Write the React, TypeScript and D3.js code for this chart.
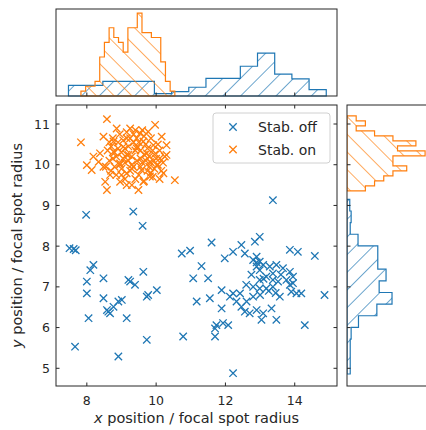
import * as d3 from 'd3';

// scatter: stabilisation off (blue) / on (orange), in focal-spot radii
const offX = [7.5, 7.62, 7.68, 8.19, 8.1, 8.0, 8.0, 8.05, 7.66, 8.48, 8.48, 8.77, 8.62, 8.67, 8.91, 9.01, 8.58, 9.2, 9.25, 9.39,
  9.15, 9.63, 9.73, 9.77, 10.02, 9.73, 8.91, 10.74, 10.98, 11.6, 11.31, 11.07, 11.5, 11.17, 11.55, 11.89, 11.89, 10.78, 11.7, 11.74,
  11.93, 11.7, 12.08, 12.22, 11.98, 12.22, 12.46, 12.56, 12.85, 12.99, 12.8, 12.9, 12.99, 13.09, 13.28, 13.47, 13.66, 13.86, 12.99, 13.18,
  13.37, 13.52, 13.76, 13.95, 13.9, 14.05, 14.19, 13.95, 13.86, 14.09, 14.58, 14.86, 14.29, 13.47, 13.04, 13.33, 13.57, 12.8, 12.61, 12.42,
  12.22, 12.32, 12.46, 12.7, 12.9, 13.09, 12.8, 12.99, 13.18, 13.37, 12.9, 12.99, 13.86, 12.13, 12.56, 13.37, 7.98, 9.34, 9.61, 13.37,
  12.75, 13.1, 13.25, 13.6, 13.0, 12.6, 13.45, 12.9];
const offY = [7.95, 7.93, 7.9, 7.54, 7.41, 7.13, 6.84, 6.23, 5.53, 7.21, 6.72, 6.51, 6.39, 6.35, 6.64, 6.68, 6.43, 7.17, 7.13, 7.05,
  6.23, 7.37, 6.76, 6.8, 6.92, 5.7, 5.29, 7.82, 7.89, 8.09, 7.51, 7.21, 7.21, 6.64, 6.72, 6.92, 6.47, 5.78, 5.78, 6.06,
  6.11, 5.98, 6.06, 4.88, 7.7, 7.86, 8.03, 7.82, 8.11, 8.23, 7.66, 7.5, 7.41, 7.54, 7.5, 7.54, 7.46, 7.37, 7.17, 7.25,
  7.33, 7.13, 7.17, 7.09, 6.88, 6.84, 6.84, 7.25, 7.91, 7.86, 7.76, 6.8, 6.06, 6.19, 6.19, 6.47, 6.76, 6.76, 6.64, 6.84,
  6.84, 6.64, 6.51, 6.35, 6.43, 6.35, 7.0, 6.96, 6.96, 7.0, 7.74, 7.62, 7.05, 6.76, 6.39, 7.17, 8.77, 8.85, 8.5, 9.13,
  7.3, 7.2, 6.9, 7.3, 6.8, 7.05, 6.85, 7.6];

const onX = [8.58, 8.86, 8.48, 9.25, 9.97, 9.54, 9.77, 10.16, 10.3, 10.3, 10.11, 10.02, 10.21, 10.54, 8.19, 8.0, 8.34, 8.48, 8.67, 8.53,
  8.58, 8.96, 9.3, 9.49, 9.63, 9.82, 9.05, 8.77, 9.2, 9.44, 9.73, 8.96, 9.34, 9.58, 9.82, 9.15, 8.77, 9.63, 9.92, 9.44,
  9.15, 8.38, 8.14, 7.83,
  8.7, 8.85, 8.9, 9.0, 9.1, 9.05, 9.2, 9.3, 9.35, 9.45, 9.55, 9.6, 9.7, 9.8, 9.9, 10.0, 10.05, 9.95, 9.75, 9.5,
  9.25, 9.0, 8.8, 8.65, 8.6, 8.75, 8.95, 9.15, 9.4, 9.65, 9.85, 10.1, 10.2, 10.15, 9.9, 9.65, 9.4, 9.1, 8.85, 8.7,
  8.9, 9.15, 9.4, 9.65, 9.85, 9.55, 9.3, 9.05, 8.8, 9.25, 9.5, 9.75, 9.95, 10.05, 9.7, 9.45, 9.2, 8.95, 9.1, 9.35,
  9.6, 8.75, 8.55, 9.0, 9.8, 10.25, 9.55, 9.3, 9.15, 9.85, 10.1, 8.65];
const onY = [11.12, 10.89, 10.69, 10.89, 10.98, 10.77, 10.81, 10.69, 10.48, 10.24, 10.16, 9.99, 9.79, 9.62, 10.2, 9.99, 10.07, 9.95, 9.75, 9.58,
  9.38, 9.58, 9.5, 9.38, 9.58, 9.71, 10.44, 10.32, 10.24, 10.4, 10.28, 10.03, 9.95, 9.87, 10.07, 9.79, 10.57, 10.57, 10.48, 10.65,
  10.65, 10.28, 9.87, 10.55,
  10.45, 10.2, 10.55, 10.3, 10.05, 10.6, 10.45, 10.2, 10.55, 10.1, 10.35, 10.05, 10.5, 10.2, 10.35, 10.15, 10.5, 9.9, 9.85, 9.75,
  9.85, 9.9, 9.95, 10.1, 10.35, 10.65, 10.75, 10.8, 10.85, 10.7, 10.65, 10.35, 10.05, 9.85, 9.7, 9.6, 9.65, 9.65, 9.75, 9.85,
  10.4, 10.25, 10.35, 10.25, 10.05, 9.95, 10.0, 10.15, 10.3, 10.65, 10.55, 10.4, 10.25, 10.0, 10.1, 10.45, 10.1, 10.0, 10.4, 10.75,
  10.85, 10.15, 9.95, 9.75, 9.95, 10.2, 10.15, 9.9, 9.5, 9.8, 9.65, 10.55];

// marginal histograms (evenly spaced bins over each range)
const topOffRange = [7.47, 14.91];
const topOffCounts = [2.2, 2.2, 3.0, 3.0, 3.0, 0.5, 0.9, 1.8, 3.6, 3.6, 6.1, 8.8, 4.5, 3.5, 1.3];
const topOnRange = [7.83, 10.54];
const topOnCounts = [1, 2, 2, 3, 8, 11, 14, 12, 11, 9, 14, 14, 17, 13, 13, 12, 12, 7, 3, 1];
const rightOffRange = [4.86, 9.15];
const rightOffCounts = [0.7, 0.7, 0.7, 0.9, 2.5, 6.5, 9.8, 7, 8.5, 6.7, 6.7, 2.4, 0.7, 0.9, 0.6];
const rightOnRange = [9.36, 11.2];
const rightOnCounts = [4, 6, 8, 10, 13, 10, 10, 17, 11, 15, 10, 6, 2, 4, 2];

const xTicks = [8, 10, 12, 14];
const yTicks = [5, 6, 7, 8, 9, 10, 11];
const seriesNames = ['Stab. off', 'Stab. on'];

const BLUE = '#1f77b4';
const ORANGE = '#ff7f0e';
const INK = '#262626';
const FONT = 'DejaVu Sans, sans-serif';

const main = { l: 56, r: 337, t: 105, b: 386 };
const top = { t: 9, b: 96 };
const side = { l: 347, r: 429 };

const x = d3.scaleLinear().domain([7.11, 15.22]).range([main.l, main.r]);
const y = d3.scaleLinear().domain([4.565, 11.467]).range([main.b, main.t]);
const hTop = d3.scaleLinear().domain([0, 17.85]).range([top.b, top.t]);
const hSide = d3.scaleLinear().domain([0, 17.85]).range([side.l, side.r]);

function edges(range: number[], n: number) {
  return d3.range(n + 1).map((i) => range[0] + ((range[1] - range[0]) * i) / n);
}

// step outline of a histogram; vertical=true draws along x
function histPath(range: number[], counts: number[], pos: any, val: any, vertical: boolean) {
  const e = edges(range, counts.length);
  const pts: [number, number][] = [[e[0], 0]];
  counts.forEach((c, i) => {
    pts.push([e[i], c]);
    pts.push([e[i + 1], c]);
  });
  pts.push([e[e.length - 1], 0]);
  const line = d3
    .line<[number, number]>()
    .x((p) => (vertical ? pos(p[0]) : val(p[1])))
    .y((p) => (vertical ? val(p[1]) : pos(p[0])));
  return line(pts) + 'Z';
}

function Cross({ cx, cy, color, r = 3.7 }: any) {
  return (
    <path
      d={`M${cx - r},${cy - r}L${cx + r},${cy + r}M${cx - r},${cy + r}L${cx + r},${cy - r}`}
      stroke={color}
      strokeWidth={1.3}
      fill="none"
    />
  );
}

function Hatch({ id, color, angle }: any) {
  return (
    <pattern id={id} patternUnits="userSpaceOnUse" width={12.5} height={12} patternTransform={`rotate(${angle})`}>
      <line x1={0} y1={0} x2={0} y2={12} stroke={color} strokeWidth={1.3} />
    </pattern>
  );
}

export default function App() {
  const tl = 3.5;
  return (
    <svg width={426} height={430} style={{ position: 'absolute', left: 0, top: 0, background: '#fff' }} fontFamily={FONT}>
      <defs>
        <Hatch id="hOff" color={BLUE} angle={45} />
        <Hatch id="hOn" color={ORANGE} angle={-45} />
        <clipPath id="clipMain">
          <rect x={main.l} y={main.t} width={main.r - main.l} height={main.b - main.t} />
        </clipPath>
        <clipPath id="clipSide">
          <rect x={side.l} y={main.t} width={side.r - side.l} height={main.b - main.t} />
        </clipPath>
      </defs>

      {/* top marginal histogram */}
      <g>
        <path d={histPath(topOffRange, topOffCounts, x, hTop, true)} fill="url(#hOff)" stroke={BLUE} strokeWidth={1.2} />
        <path d={histPath(topOnRange, topOnCounts, x, hTop, true)} fill="url(#hOn)" stroke={ORANGE} strokeWidth={1.2} />
        {xTicks.map((t) => (
          <line key={t} x1={x(t)} x2={x(t)} y1={top.b} y2={top.b - tl} stroke={INK} />
        ))}
        <rect x={main.l} y={top.t} width={main.r - main.l} height={top.b - top.t} fill="none" stroke={INK} strokeWidth={1} />
      </g>

      {/* right marginal histogram */}
      <g clipPath="url(#clipSide)">
        <path d={histPath(rightOffRange, rightOffCounts, y, hSide, false)} fill="url(#hOff)" stroke={BLUE} strokeWidth={1.2} />
        <path d={histPath(rightOnRange, rightOnCounts, y, hSide, false)} fill="url(#hOn)" stroke={ORANGE} strokeWidth={1.2} />
      </g>
      {yTicks.map((t) => (
        <line key={t} x1={side.l} x2={side.l + tl} y1={y(t)} y2={y(t)} stroke={INK} />
      ))}
      <rect x={side.l} y={main.t} width={side.r - side.l} height={main.b - main.t} fill="none" stroke={INK} strokeWidth={1} />

      {/* main scatter */}
      <g clipPath="url(#clipMain)">
        {offX.map((v, i) => (
          <Cross key={'o' + i} cx={x(v)} cy={y(offY[i])} color={BLUE} />
        ))}
        {onX.map((v, i) => (
          <Cross key={'n' + i} cx={x(v)} cy={y(onY[i])} color={ORANGE} />
        ))}
      </g>
      {xTicks.map((t) => (
        <g key={t}>
          <line x1={x(t)} x2={x(t)} y1={main.b} y2={main.b - tl} stroke={INK} />
          <line x1={x(t)} x2={x(t)} y1={main.t} y2={main.t + tl} stroke={INK} />
          <text x={x(t)} y={405} textAnchor="middle" fontSize={12.5} fill={INK}>
            {t}
          </text>
        </g>
      ))}
      {yTicks.map((t) => (
        <g key={t}>
          <line x1={main.l} x2={main.l + tl} y1={y(t)} y2={y(t)} stroke={INK} />
          <line x1={main.r} x2={main.r - tl} y1={y(t)} y2={y(t)} stroke={INK} />
          <text x={50} y={y(t)} dy="0.36em" textAnchor="end" fontSize={12.5} fill={INK}>
            {t}
          </text>
        </g>
      ))}
      <rect x={main.l} y={main.t} width={main.r - main.l} height={main.b - main.t} fill="none" stroke={INK} strokeWidth={1} />

      {/* legend */}
      <g>
        <rect x={213} y={113} width={117} height={50} rx={3} fill="#fff" fillOpacity={0.8} stroke="#d0d0d0" />
        {seriesNames.map((name, i) => (
          <g key={name}>
            <Cross cx={233} cy={127 + i * 22.5} color={i === 0 ? BLUE : ORANGE} />
            <text x={258} y={127 + i * 22.5} dy="0.36em" fontSize={14} fill={INK}>
              {name}
            </text>
          </g>
        ))}
      </g>

      {/* axis labels */}
      <text x={(main.l + main.r) / 2} y={423} textAnchor="middle" fontSize={14.5} fill={INK}>
        <tspan fontStyle="italic">x</tspan> position / focal spot radius
      </text>
      <text
        transform={`translate(22,${(main.t + main.b) / 2}) rotate(-90)`}
        textAnchor="middle"
        fontSize={14.5}
        fill={INK}
      >
        <tspan fontStyle="italic">y</tspan> position / focal spot radius
      </text>
    </svg>
  );
}
